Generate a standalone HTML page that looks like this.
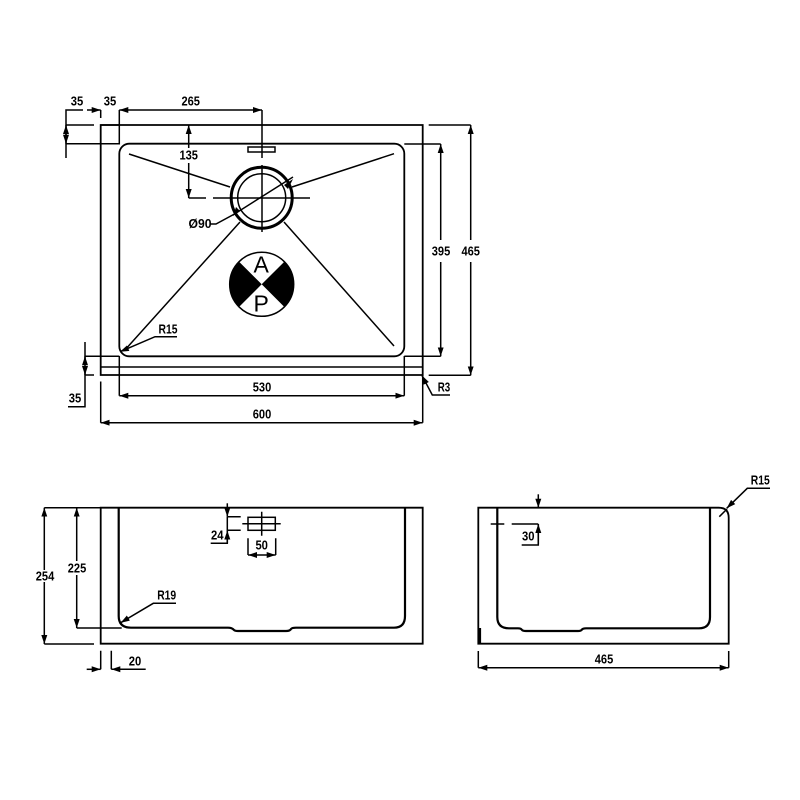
<!DOCTYPE html>
<html>
<head>
<meta charset="utf-8">
<title>Sink dimensions</title>
<style>
html,body{margin:0;padding:0;background:#fff;}
svg{display:block;filter:blur(.3px);}
text{font-family:"Liberation Sans",sans-serif;font-weight:bold;font-size:13px;fill:#000;text-anchor:middle;}
.a{fill:none;stroke:#000;stroke-width:1.5;}
.o{fill:none;stroke:#000;stroke-width:1.8;}
.b{fill:none;stroke:#000;stroke-width:2.2;}
</style>
</head>
<body>
<svg width="800" height="800" viewBox="0 0 800 800" xmlns="http://www.w3.org/2000/svg">
<defs>
<marker id="m" markerUnits="userSpaceOnUse" markerWidth="10" markerHeight="7" refX="9" refY="3.5" orient="auto-start-reverse" viewBox="0 0 10 7"><path d="M0 .5L9 3.5L0 6.5Z" fill="#000"/></marker>
</defs>

<!-- TOP VIEW -->
<path class="o" d="M100.7 125V375H422.7V125Z"/>
<path class="a" d="M100.7 367H422.7"/>
<rect class="o" x="119.3" y="143.7" width="285" height="212.6" rx="10" ry="10"/>
<path class="a" d="M129 154L230 187M394 153.7L292 187M126.7 348L240 222M394 346L284 222"/>

<rect x="96" y="117" width="9" height="5" fill="#fff"/>
<path class="a" d="M100.7 110V118"/>

<!-- top left dims -->
<path class="a" d="M66 158V110H83M66 125H94M66 143.7H119.3V110M100.7 125H119.3"/>
<path class="a" d="M87 110H100.7" marker-end="url(#m)"/>
<path class="a" d="M119.3 110H262" marker-start="url(#m)" marker-end="url(#m)"/>
<path class="a" d="M66 134L66 125" marker-end="url(#m)"/>
<path class="a" d="M66 134L66 143.7" marker-end="url(#m)"/>
<path class="a" d="M262 110V158M262 165V232"/>
<rect class="a" x="248" y="147" width="27" height="5"/>
<path class="a" d="M188.7 148V125" marker-end="url(#m)"/>
<path class="a" d="M188.7 163V198" marker-end="url(#m)"/>
<path class="a" d="M188.7 198H206M213 198H310"/>
<text x="77" y="105.6" textLength="12.5" lengthAdjust="spacingAndGlyphs">35</text>
<text x="110" y="105.6" textLength="12.5" lengthAdjust="spacingAndGlyphs">35</text>
<text x="190.7" y="105.6" textLength="18.5" lengthAdjust="spacingAndGlyphs">265</text>
<text x="188.7" y="159.6" textLength="18.5" lengthAdjust="spacingAndGlyphs">135</text>

<!-- waste -->
<circle cx="261.7" cy="197.7" r="30.5" fill="none" stroke="#000" stroke-width="3"/>
<circle cx="261.7" cy="197.7" r="24" class="a"/>
<path class="a" d="M293 177L234.5 214L216 224H210"/>
<path d="M284 185L293 179L288 189ZM240 211L233 216L236 207Z" fill="#000"/>
<text x="200" y="228" textLength="23" lengthAdjust="spacingAndGlyphs">Ø90</text>

<!-- AP symbol -->
<path d="M261.7 284.3L239.1 261.7A32 32 0 0 0 239.1 306.9ZM261.7 284.3L284.3 261.7A32 32 0 0 1 284.3 306.9Z" fill="#000"/>
<circle cx="261.7" cy="284.3" r="32" class="a"/>
<text x="261.2" y="272.5" style="font-size:23px;font-weight:normal">A</text>
<text x="261.2" y="311.5" style="font-size:23px;font-weight:normal">P</text>

<!-- R15 -->
<path class="a" d="M177 336.7H155L120 351.7" marker-end="url(#m)"/>
<text x="168" y="333.6" textLength="19" lengthAdjust="spacingAndGlyphs">R15</text>

<!-- bottom-left 35 -->
<path class="a" d="M85 356.3H119.3M85 375H94M85 342V406.7H68"/>
<path class="a" d="M85 365L85 356.3" marker-end="url(#m)"/>
<path class="a" d="M85 366L85 375" marker-end="url(#m)"/>
<text x="75" y="402.3" textLength="12.5" lengthAdjust="spacingAndGlyphs">35</text>

<!-- 530 / 600 -->
<path class="a" d="M119.3 356V395.7M404.3 356V395.7M100.7 381.5V422.7M422.7 375V422.7"/>
<path class="a" d="M119.3 395.7H404.3" marker-start="url(#m)" marker-end="url(#m)"/>
<path class="a" d="M100.7 422.7H422.7" marker-start="url(#m)" marker-end="url(#m)"/>
<text x="262" y="391.6" textLength="18.5" lengthAdjust="spacingAndGlyphs">530</text>
<text x="262" y="418.6" textLength="18.5" lengthAdjust="spacingAndGlyphs">600</text>

<!-- right dims -->
<path class="a" d="M404.3 144H440.7M404.3 356.3H440.7M428.7 125H470.7M428.7 375.3H470.7"/>
<path class="a" d="M440.7 240V144" marker-end="url(#m)"/>
<path class="a" d="M440.7 262V356.3" marker-end="url(#m)"/>
<path class="a" d="M470.7 240V125" marker-end="url(#m)"/>
<path class="a" d="M470.7 262V375.3" marker-end="url(#m)"/>
<text x="441" y="255.3" textLength="18.5" lengthAdjust="spacingAndGlyphs">395</text>
<text x="470.7" y="255.3" textLength="18.5" lengthAdjust="spacingAndGlyphs">465</text>
<path class="a" d="M450 395H432.3L422 375.5" marker-end="url(#m)"/>
<text x="444" y="391.3" textLength="12.5" lengthAdjust="spacingAndGlyphs">R3</text>

<!-- FRONT VIEW -->
<path class="o" d="M100.7 507.7H422.7V643.7H100.7Z"/>
<path class="b" d="M118.7 507.7V616Q118.7 627.7 131 627.7H228Q232 627.7 234 630Q235 631 238 631H286Q290 631 291 629Q292 627.7 296 627.7H394Q405 627.7 405 616V507.7"/>
<path class="a" d="M44.3 507.7H93M44.3 644H94M76.7 507.7H100M76.7 628H121.7"/>
<path class="a" d="M44.3 570V507.7" marker-end="url(#m)"/>
<path class="a" d="M44.3 582V644" marker-end="url(#m)"/>
<path class="a" d="M76.7 561V507.7" marker-end="url(#m)"/>
<path class="a" d="M76.7 575V628" marker-end="url(#m)"/>
<text x="45" y="580.3" textLength="18.5" lengthAdjust="spacingAndGlyphs">254</text>
<text x="77" y="572.6" textLength="18.5" lengthAdjust="spacingAndGlyphs">225</text>
<path class="a" d="M176 603.3H153.3L120.7 622.7" marker-end="url(#m)"/>
<text x="166.7" y="599.6" textLength="19" lengthAdjust="spacingAndGlyphs">R19</text>
<path class="a" d="M100.7 650.7V669.3M111.3 650.7V669.3"/>
<path class="a" d="M86.7 669.3H100.7" marker-end="url(#m)"/>
<path class="a" d="M145.7 669.3H111.3" marker-end="url(#m)"/>
<text x="135" y="665.3" textLength="12.5" lengthAdjust="spacingAndGlyphs">20</text>
<!-- 24 -->
<path class="a" d="M227.3 516.7H240.7M227.3 530.3H240.7M210.7 543.3H227.3V530.3M227.3 516.7V530.3"/>
<path class="a" d="M227.3 503.3V516.7" marker-end="url(#m)"/>
<path class="a" d="M227.3 543V530.5" marker-end="url(#m)"/>
<text x="217.3" y="539.6" textLength="12.5" lengthAdjust="spacingAndGlyphs">24</text>
<rect class="a" x="248" y="517.3" width="27.3" height="13"/>
<path class="a" d="M242.3 523.7H280.7M261.7 511.7V535.7"/>
<path class="a" d="M248 538.3V555M275.7 538.3V555"/>
<path class="a" d="M248 555H275.7" marker-start="url(#m)" marker-end="url(#m)"/>
<text x="261.7" y="549.6" textLength="12.5" lengthAdjust="spacingAndGlyphs">50</text>

<!-- SIDE VIEW -->
<path class="o" d="M478.3 507.7H718.7Q728.7 507.7 728.7 517.7V643.7H478.3Z"/>
<path class="b" d="M480 628V643"/>
<path class="b" d="M497.3 507.7V617Q497.3 628.3 509 628.3H518Q521 628.3 522 630Q523 631 526 631H578Q581 631 582 629.5Q583 628.3 586 628.3H699Q710 628.3 710 617V507.7"/>
<path class="a" d="M490.7 524H504.3M511.7 524H538.3M521.7 545H538.3V524M719.3 516.7L727 509"/>
<path class="a" d="M538.3 494.3V507.7" marker-end="url(#m)"/>
<path class="a" d="M538.3 544V524" marker-end="url(#m)"/>
<text x="528.3" y="540.6" textLength="12.5" lengthAdjust="spacingAndGlyphs">30</text>
<path class="a" d="M770 488.3H747.3L726.7 508.3" marker-end="url(#m)"/>
<text x="760.3" y="484.6" textLength="19" lengthAdjust="spacingAndGlyphs">R15</text>
<path class="a" d="M478.3 651V667.7M728.7 651V667.7"/>
<path class="a" d="M478.3 667.7H728.7" marker-start="url(#m)" marker-end="url(#m)"/>
<text x="604" y="663.6" textLength="18.5" lengthAdjust="spacingAndGlyphs">465</text>
</svg>
</body>
</html>
